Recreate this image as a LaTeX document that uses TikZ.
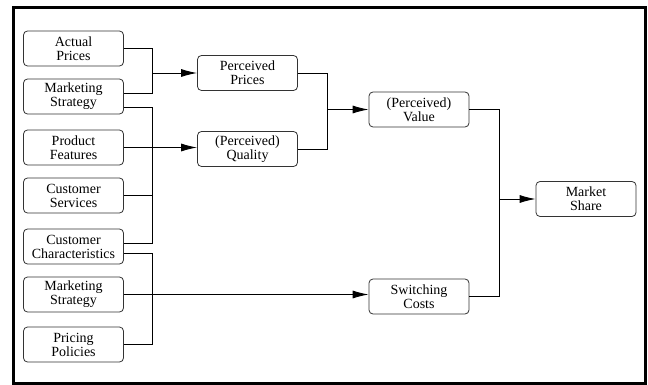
\documentclass[tikz,border=0pt]{standalone}
\usepackage{fontspec}
\setmainfont{Liberation Serif}
\usetikzlibrary{arrows.meta}

\tikzset{
  factor/.style={draw=black!80, line width=0.8pt, rounded corners=4pt,
    minimum width=100pt, minimum height=35pt, inner sep=0pt, align=center,
    font=\fontsize{14}{14}\selectfont},
  conn/.style={line width=0.9pt},
  arr/.style={conn, -{Latex[length=16pt,width=8pt]}}
}

\begin{document}
\begin{tikzpicture}[x=1pt,y=-1pt]

\useasboundingbox (0,0) rectangle (648,385);

% Frame
\draw[line width=3pt] (13.5,7.5) rectangle (645.5,383);

% Left column
\node[factor] (ap)  at (73.5,48.5)  {Actual\\Prices};
\node[factor] (ms1) at (73.5,96.5)  {Marketing\\Strategy};
\node[factor] (pf)  at (73.5,147.5) {Product\\Features};
\node[factor] (cs)  at (73.5,195.5) {Customer\\Services};
\node[factor] (cc)  at (73.5,246.5) {Customer\\Characteristics};
\node[factor] (ms2) at (73.5,294.5) {Marketing\\Strategy};
\node[factor] (pp)  at (73.5,344.5) {Pricing\\Policies};

% Middle and right column
\node[factor] (prc) at (247.5,73)  {Perceived\\Prices};
\node[factor] (qlt) at (247.5,149) {(Perceived)\\Quality};
\node[factor] (val) at (419,109.5) {(Perceived)\\Value};
\node[factor] (sw)  at (419,296.5) {Switching\\Costs};
\node[factor] (msh) at (586,199)   {Market\\Share};

% Junction columns
\coordinate (ja) at (152,0);
\coordinate (jb) at (327,0);
\coordinate (jc) at (499,0);

% Prices branch
\draw[conn] (ap.east) -- (ap.east -| ja) |- ([yshift=3.5pt]ms1.east);
\draw[arr] (ja |- prc.west) -- (prc.west);

% Quality branch
\draw[conn] ([yshift=-10.5pt]ms1.east) -- ([yshift=-10.5pt]ms1.east -| ja)
  |- ([yshift=3.5pt]cc.east);
\draw[conn] (cs.east) -- (cs.east -| ja);
\draw[arr] (pf.east) -- (pf.east -| qlt.west);

% Switching costs branch
\draw[conn] ([yshift=-6.5pt]cc.east) -- ([yshift=-6.5pt]cc.east -| ja) |- (pp.east);
\draw[arr] (ms2.east) -- (ms2.east -| sw.west);

% Value
\draw[conn] (prc.east) -- (prc.east -| jb) |- (qlt.east);
\draw[arr] (jb |- val.west) -- (val.west);

% Market share
\draw[conn] (val.east) -- (val.east -| jc) |- (sw.east);
\draw[arr] (jc |- msh.west) -- (msh.west);

\end{tikzpicture}
\end{document}
